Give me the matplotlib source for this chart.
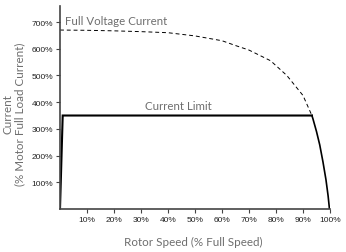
import matplotlib
matplotlib.use("Agg")
import matplotlib.pyplot as plt

# full voltage current (dashed), % speed vs % FLC
fv_speed = [0, 10, 20, 30, 40, 50, 60, 65, 70, 78, 84, 90, 93.3]
fv_current = [670, 669, 667, 664, 660, 648, 630, 612, 595, 555, 500, 425, 350]

# current limit (solid)
cl_speed = [0, 1, 93.3]
cl_current = [0, 350, 350]

# run-down near full speed (solid)
tail_speed = [93.3, 93.7, 95.0, 96.2, 97.4, 98.5, 99.3, 99.8]
tail_current = [350, 337, 290, 240, 176, 110, 49, 0]

xticks = [10, 20, 30, 40, 50, 60, 70, 80, 90, 100]
yticks = [100, 200, 300, 400, 500, 600, 700]

label_col = "#6e6e6e"
plt.rcParams["font.family"] = ["Lato", "DejaVu Sans"]

fig = plt.figure(figsize=(3.46, 2.53), dpi=100)
ax = fig.add_axes([60 / 346, 43 / 253, 270 / 346, 203 / 253])

ax.plot(fv_speed, fv_current, color="black", linestyle=(0, (4, 3)), linewidth=0.7)
ax.plot(cl_speed, cl_current, color="black", linewidth=1.5, solid_joinstyle="miter")
ax.plot(tail_speed, tail_current, color="black", linewidth=1.2)

ax.set_xlim(0, 100)
ax.set_ylim(0, 760)
ax.set_xticks(xticks)
ax.set_xticklabels([f"{t}%" for t in xticks], family="Liberation Sans", fontsize=6, color="#222222")
ax.set_yticks(yticks)
ax.set_yticklabels([f"{t}%" for t in yticks], family="Liberation Sans", fontsize=6, color="#222222")
ax.tick_params(length=3, width=0.8, color="#444444", pad=2)

for s in ["top", "right"]:
    ax.spines[s].set_visible(False)
for s in ["left", "bottom"]:
    ax.spines[s].set_color("#444444")
    ax.spines[s].set_linewidth(1.2)

ax.text(2, 705, "Full Voltage Current", fontsize=8.3, color=label_col, va="center", ha="left")
ax.text(44, 366, "Current Limit", fontsize=8.3, color=label_col, va="bottom", ha="center")

fig.text(193 / 346, 1 - 242 / 253, "Rotor Speed (% Full Speed)", fontsize=8.4,
         color=label_col, ha="center", va="center")
fig.text(14 / 346, 1 - 114 / 253, "Current\n(% Motor Full Load Current)", fontsize=8.4,
         color=label_col, ha="center", va="center", rotation=90, linespacing=1.0)

fig.savefig("out.png", dpi=100)
